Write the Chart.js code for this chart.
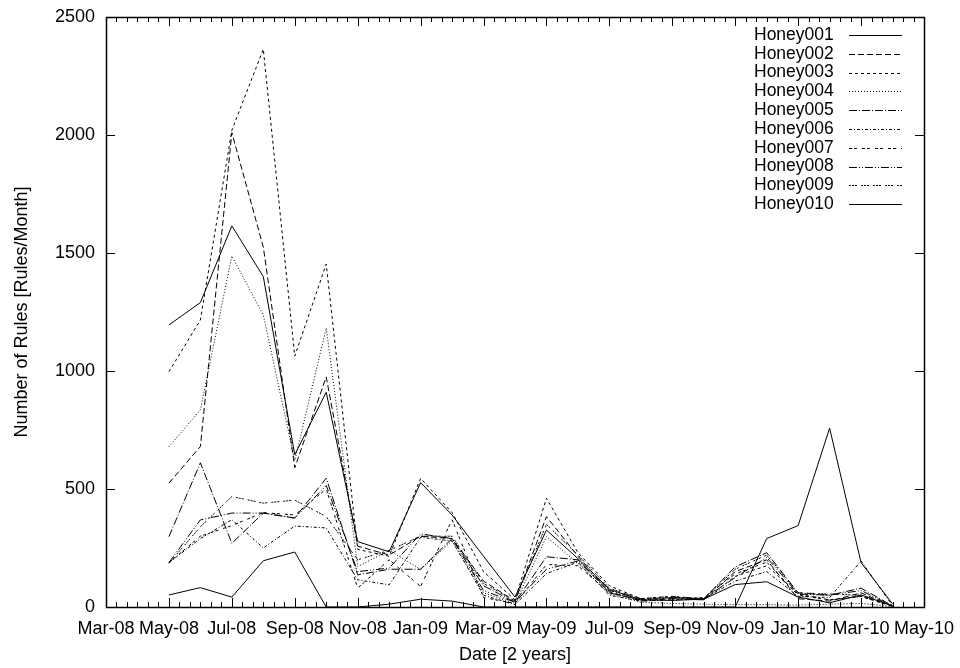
<!DOCTYPE html>
<html>
<head>
<meta charset="utf-8">
<title>Number of Rules per Month</title>
<script src="https://cdn.jsdelivr.net/npm/chart.js@4.4.0/dist/chart.umd.min.js"></script>
<style>
  html, body { margin: 0; padding: 0; background: #fff; }
</style>
</head>
<body>
<canvas id="rulesChart" width="960" height="668"></canvas>
<script>
// Monthly rule counts per honeypot, May 2008 to April 2010
const months = [
    '2008-05', '2008-06', '2008-07', '2008-08', '2008-09', '2008-10', '2008-11', '2008-12',
    '2009-01', '2009-02', '2009-03', '2009-04', '2009-05', '2009-06', '2009-07', '2009-08',
    '2009-09', '2009-10', '2009-11', '2009-12', '2010-01', '2010-02', '2010-03', '2010-04'
];

const honey001 = [ 1195, 1290, 1615, 1400, 645, 910, 277, 234, 527, 390, 215, 42, 326, 205, 75, 30, 28, 33, 95, 107, 42, 18, 51, 5 ];
const honey002 = [ 525, 680, 2010, 1525, 590, 975, 258, 220, 300, 290, 110, 25, 383, 215, 65, 25, 35, 30, 150, 200, 35, 25, 60, 3 ];
const honey003 = [ 997, 1216, 2020, 2364, 1063, 1453, 244, 215, 545, 400, 150, 30, 461, 230, 90, 35, 45, 30, 130, 175, 55, 30, 45, 3 ];
const honey004 = [ 679, 835, 1487, 1237, 620, 1182, 171, 240, 160, 280, 60, 15, 298, 185, 55, 20, 15, 12, 10, 10, 8, 12, 15, 2 ];
const honey005 = [ 298, 611, 270, 398, 377, 546, 136, 160, 160, 290, 90, 20, 213, 200, 60, 30, 40, 35, 170, 230, 60, 50, 80, 5 ];
const honey006 = [ 188, 290, 370, 250, 343, 335, 115, 94, 295, 280, 50, 10, 142, 190, 50, 25, 30, 35, 110, 150, 45, 40, 195, 5 ];
const honey007 = [ 188, 300, 345, 400, 390, 500, 80, 200, 87, 370, 40, 15, 180, 175, 60, 30, 35, 40, 140, 190, 50, 30, 45, 2 ];
const honey008 = [ 188, 369, 398, 398, 377, 515, 150, 165, 310, 290, 70, 20, 160, 195, 70, 35, 40, 35, 125, 210, 55, 50, 70, 4 ];
const honey009 = [ 185, 340, 468, 440, 453, 383, 200, 240, 300, 300, 100, 25, 350, 220, 80, 35, 45, 35, 160, 220, 60, 55, 50, 5 ];
const honey010 = [ 51, 82, 42, 196, 233, 0, 0, 12, 33, 25, 0, 0, 0, 0, 0, 0, 0, 0, 0, 290, 345, 758, 188, 13 ];

const seriesNames = [ 'Honey001', 'Honey002', 'Honey003', 'Honey004', 'Honey005',
                      'Honey006', 'Honey007', 'Honey008', 'Honey009', 'Honey010' ];
const seriesValues = [ honey001, honey002, honey003, honey004, honey005,
                       honey006, honey007, honey008, honey009, honey010 ];

// x tick labels, one every two months starting at Mar-08
const tickLabels = [ 'Mar-08', 'May-08', 'Jul-08', 'Sep-08', 'Nov-08', 'Jan-09', 'Mar-09',
                     'May-09', 'Jul-09', 'Sep-09', 'Nov-09', 'Jan-10', 'Mar-10', 'May-10' ];

// gnuplot-like line types
const dashPatterns = [ [], [ 6, 3 ], [ 3, 3 ], [ 1, 2 ], [ 8, 2, 1, 2 ], [ 3, 2, 1, 2 ],
                       [ 3, 2, 3, 5 ], [ 8, 2, 1, 2, 1, 2 ], [ 2, 1, 2, 1, 2, 4 ], [] ];

const family = "'Liberation Sans', Arial, sans-serif";
const font = { family: family, size: 18 };
const keyFont = '17.5px ' + family;

// months counted from Mar-08
function monthOffset ( ym )
{
    let parts = ym.split( '-' ).map( Number );
    return ( parts[ 0 ] - 2008 ) * 12 + ( parts[ 1 ] - 3 );
}

let datasets = seriesNames.map( function ( name, i )
{
    return {
        label: name,
        data: seriesValues[ i ].map( function ( v, j ) { return { x: monthOffset( months[ j ] ), y: v }; } ),
        borderColor: '#000',
        borderWidth: 1,
        borderDash: dashPatterns[ i ],
        pointRadius: 0,
        tension: 0,
        fill: false
    };
} );

// keep the plot box fixed: axes take no extra room for overhanging labels
function fixPadding ( s )
{
    s.paddingTop = 0;
    s.paddingBottom = 0;
    s.paddingLeft = 0;
    s.paddingRight = 0;
}

// Box round the plot with inward ticks on all four sides
const framePlugin = {
    id: 'frame',
    afterDraw ( chart )
    {
        let ctx = chart.ctx;
        let a = chart.chartArea;
        let xs = chart.scales.x;
        let ys = chart.scales.y;
        ctx.save();
        ctx.strokeStyle = '#000';
        ctx.lineWidth = 1;
        ctx.beginPath();
        for ( let k = 0; k <= ( xs.max - xs.min ) * 3; k++ )
        {
            let v = xs.min + k / 3;
            let px = Math.round( xs.getPixelForValue( v ) ) + 0.5;
            let len = k % 6 === 0 ? 9 : 5;
            ctx.moveTo( px, a.bottom ); ctx.lineTo( px, a.bottom - len );
            ctx.moveTo( px, a.top ); ctx.lineTo( px, a.top + len );
        }
        ys.ticks.forEach( function ( t )
        {
            let py = Math.round( ys.getPixelForValue( t.value ) ) + 0.5;
            ctx.moveTo( a.left, py ); ctx.lineTo( a.left + 9, py );
            ctx.moveTo( a.right, py ); ctx.lineTo( a.right - 9, py );
        } );
        ctx.stroke();
        ctx.lineWidth = 1.5;
        ctx.strokeRect( Math.round( a.left ) + 0.5, Math.round( a.top ) + 0.5,
                        Math.round( a.right - a.left ), Math.round( a.bottom - a.top ) );
        ctx.restore();
    }
};

// Key in the top right corner: name first, then a sample of the line
const keyPlugin = {
    id: 'key',
    afterDraw ( chart )
    {
        let ctx = chart.ctx;
        ctx.save();
        ctx.font = keyFont;
        ctx.fillStyle = '#000';
        ctx.textBaseline = 'middle';
        ctx.textAlign = 'left';
        chart.data.datasets.forEach( function ( ds, i )
        {
            let y = 35 + i * 18.8;
            ctx.fillText( ds.label, 754, y );
            ctx.strokeStyle = '#000';
            ctx.lineWidth = 1;
            ctx.setLineDash( ds.borderDash );
            ctx.beginPath();
            ctx.moveTo( 849, Math.round( y ) + 0.5 );
            ctx.lineTo( 902, Math.round( y ) + 0.5 );
            ctx.stroke();
        } );
        ctx.restore();
    }
};

let ctx = document.getElementById( 'rulesChart' ).getContext( '2d' );
let chart = new Chart( ctx, {
    type: 'line',
    data: { datasets: datasets },
    options: {
        responsive: false,
        animation: false,
        layout: { padding: { left: 0, right: 36, top: 17, bottom: 0 } },
        plugins: {
            legend: { display: false },
            tooltip: { enabled: false }
        },
        scales: {
            x: {
                type: 'linear',
                min: 0,
                max: 26,
                afterFit: function ( s ) { s.height = 61; fixPadding( s ); },
                grid: { display: false, drawTicks: false },
                border: { display: false },
                ticks: {
                    stepSize: 2,
                    autoSkip: false,
                    maxRotation: 0,
                    padding: 11,
                    color: '#000',
                    font: font,
                    callback: function ( v ) { return tickLabels[ v / 2 ]; }
                },
                title: {
                    display: true,
                    text: 'Date [2 years]',
                    color: '#000',
                    font: font,
                    padding: { top: 0, bottom: 2 }
                }
            },
            y: {
                min: 0,
                max: 2500,
                afterFit: function ( s ) { s.width = 106; fixPadding( s ); },
                grid: { display: false, drawTicks: false },
                border: { display: false },
                ticks: {
                    stepSize: 500,
                    padding: 11,
                    color: '#000',
                    font: font,
                    callback: function ( v ) { return String( v ); }
                },
                title: {
                    display: true,
                    text: 'Number of Rules [Rules/Month]',
                    color: '#000',
                    font: font,
                    padding: { top: 11, bottom: 0 }
                }
            }
        }
    },
    plugins: [ framePlugin, keyPlugin ]
} );
</script>
</body>
</html>
